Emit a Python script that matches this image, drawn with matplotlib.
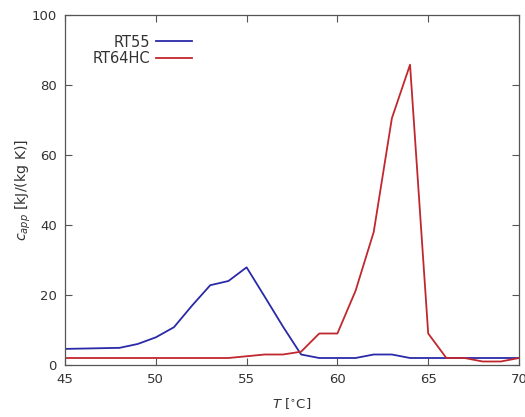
import matplotlib
matplotlib.use("Agg")
import matplotlib.pyplot as plt

T = [45, 46, 47, 48, 49, 50, 51, 52, 53, 54, 55, 56, 57, 58, 59, 60, 61, 62, 63, 64, 65, 66, 67, 68, 69, 70]
rt55 = [4.6, 4.7, 4.8, 4.9, 6.0, 7.9, 10.8, 17.0, 22.8, 24.0, 27.9, 19.5, 11.0, 3.0, 2.0, 2.0, 2.0, 3.0, 3.0, 2.0, 2.0, 2.0, 2.0, 2.0, 2.0, 2.0]
rt64hc = [2.0, 2.0, 2.0, 2.0, 2.0, 2.0, 2.0, 2.0, 2.0, 2.0, 2.5, 3.0, 3.0, 3.8, 9.0, 9.0, 21.2, 38.0, 70.5, 85.8, 9.0, 2.0, 2.0, 1.0, 1.0, 2.0]
xticks = [45, 50, 55, 60, 65, 70]
yticks = [0, 20, 40, 60, 80, 100]

plt.rcParams['font.family'] = ['DejaVu Sans']
plt.rcParams['mathtext.fontset'] = 'dejavusans'
fs = 9.5
txt = '#333333'

fig = plt.figure(figsize=(5.25, 4.17), dpi=100)
ax = fig.add_axes([65/525, 1-365/417, (519-65)/525, (365-15)/417])

ax.plot(T, rt55, color='#2a2aa8', lw=1.3, label='RT55')
ax.plot(T, rt64hc, color='#c0282e', lw=1.3, label='RT64HC')

ax.set_xlim(45, 70)
ax.set_ylim(0, 100)
ax.set_xticks(xticks)
ax.set_yticks(yticks)
ax.tick_params(direction='in', length=5, width=0.8, colors='#555555',
               labelcolor=txt, labelsize=fs, top=True, right=True, pad=6)
for s in ax.spines.values():
    s.set_color('#555555')
    s.set_linewidth(0.9)

ax.set_xlabel(r'$T$ [$^{\circ}$C]', fontsize=fs, color=txt, labelpad=7)
ax.set_ylabel(r'$c_{app}$ [kJ/(kg K)]', fontsize=10.2, color=txt, labelpad=-1)

leg = ax.legend(loc='upper right', bbox_to_anchor=(0.28, 0.944), markerfirst=False,
                frameon=False, fontsize=10.5, handlelength=2.5, handletextpad=0.35,
                borderpad=0, borderaxespad=0, labelspacing=0.08)
for t in leg.get_texts():
    t.set_color(txt)

fig.savefig('out.png', dpi=100)
